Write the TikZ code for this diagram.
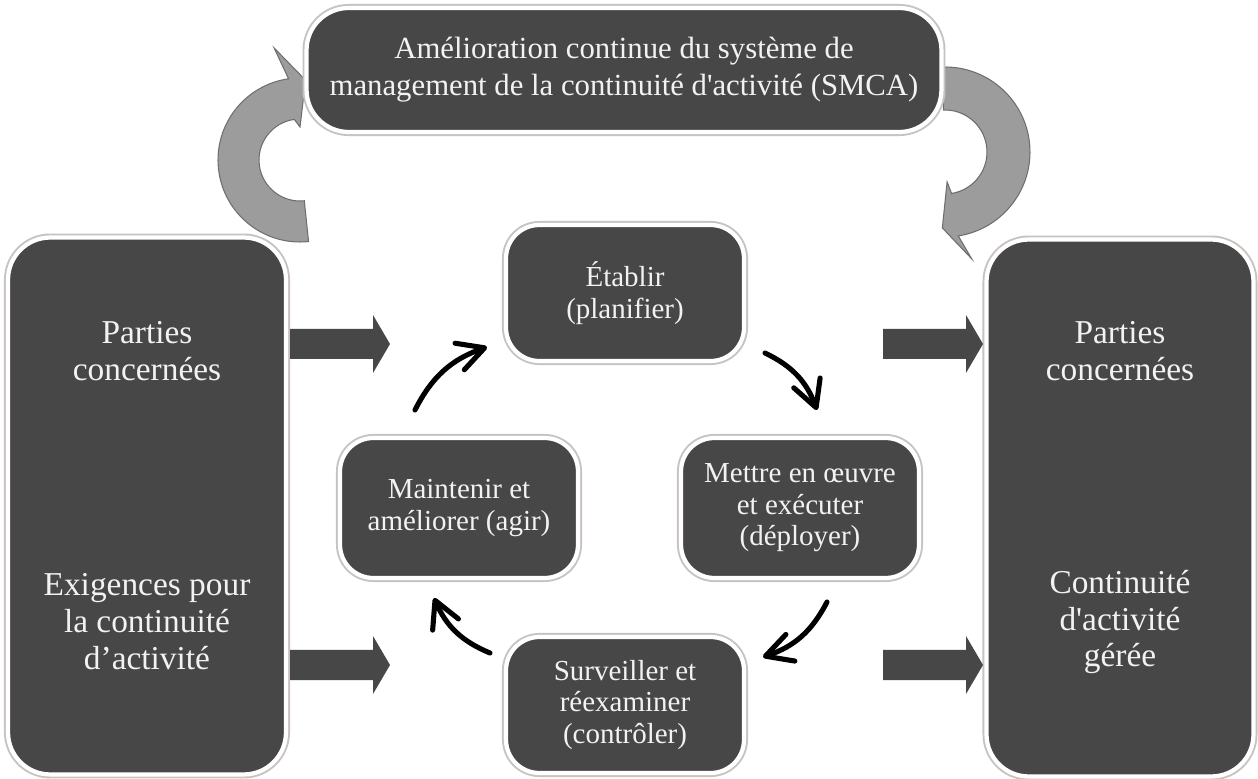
\documentclass[tikz,border=0pt]{standalone}
\usepackage{fontspec}
\setmainfont{Liberation Serif}
\usepackage{tikz}
\usetikzlibrary{calc,arrows.meta}
\definecolor{boxfill}{HTML}{474747}
\definecolor{boxedge}{HTML}{C9C3BF}
\definecolor{loopfill}{HTML}{9C9C9C}
\definecolor{loopedge}{HTML}{6E6E6E}
\definecolor{txt}{HTML}{F2F2F2}
\newcommand{\apos}{\XeTeXglyph\XeTeXcharglyph"27\relax}

\begin{document}
\begin{tikzpicture}[x=0.02cm,y=0.02cm,
  bloc/.style={rounded corners=#1,fill=boxfill,draw=white,line width=2.4pt,
    preaction={draw=boxedge,line width=4.6pt},text=txt,align=center,inner sep=0pt},
  bloc/.default=19pt,
  etape/.style={bloc,minimum width=4.76cm,minimum height=2.72cm,font=\fontsize{16.5}{18}\selectfont},
  grand/.style={bloc=24pt,minimum height=10.74cm},
  legende/.style={text=txt,align=center,font=\fontsize{19}{21}\selectfont},
  boucle/.style={fill=loopfill,draw=loopedge,line width=0.6pt},
  fleche/.style={fill=boxfill},
  tour/.style={line width=2.9pt,line cap=round,-{Straight Barb[length=15pt,width=16pt,round]}}]
  \useasboundingbox (0,0) rectangle (1258,778);
  \fill[white] (0,0) rectangle (1258,778);

  \coordinate (cg) at (300,618);
  \coordinate (cd) at (945,626);
  \draw[boucle] ([shift={(276:1.64cm)}]cg) arc[start angle=276,end angle=98,radius=1.64cm]
    -- ([shift={(103:2.3cm)}]cg) -- ([shift={(86:1.6cm)}]cg) -- ([shift={(90:0.66cm)}]cg)
    -- ([shift={(98:0.82cm)}]cg) arc[start angle=98,end angle=276,radius=0.82cm] -- cycle;
  \draw[boucle] ([shift={(92:1.7cm)}]cd) arc[start angle=92,end angle=-81,radius=1.7cm]
    -- ([shift={(-76:2.2cm)}]cd) -- ([shift={(-92:1.52cm)}]cd) -- ([shift={(-86:0.6cm)}]cd)
    -- ([shift={(-81:0.84cm)}]cd) arc[start angle=-81,end angle=92,radius=0.84cm] -- cycle;

  \node[bloc=24pt,minimum width=12.7cm,minimum height=2.48cm,
    font=\fontsize{17.5}{21}\selectfont] (smca) at (624,708)
    {Amélioration continue du système de\\management de la continuité d\apos activité (SMCA)};

  \node[grand,minimum width=5.56cm] (gauche) at (147,272) {};
  \node[grand,minimum width=5.34cm] (droite) at (1120,270) {};
  \node[legende] (pcg) at (147,427) {Parties\\concernées};
  \node[legende] (exig) at (147,156) {Exigences pour\\la continuité\\d’activité};
  \node[legende] (pcd) at (1120,427) {Parties\\concernées};
  \node[legende] (cont) at (1120,156) {Continuité\\d\apos activité\\gérée};

  \node[etape] (etab) at (625,485) {Établir\\(planifier)};
  \node[etape,minimum height=2.8cm] (maint) at (459,270) {Maintenir et\\améliorer (agir)};
  \node[etape,minimum height=2.8cm] (mettre) at (800,270) {Mettre en œuvre\\et exécuter\\(déployer)};
  \node[etape] (surv) at (625,73) {Surveiller et\\réexaminer\\(contrôler)};

  \foreach \x/\y in {290/434,290/113,883/434,883/113}
    \fill[fleche] (\x,\y-15) -- (\x+83,\y-15) -- (\x+83,\y-29) -- (\x+100,\y)
      -- (\x+83,\y+29) -- (\x+83,\y+15) -- (\x,\y+15) -- cycle;

  \coordinate (a1) at (415,368);
  \coordinate (b1) at (487,431);
  \coordinate (a2) at (765,425);
  \coordinate (b2) at (817,368);
  \coordinate (a3) at (827,176);
  \coordinate (b3) at (763,121);
  \coordinate (a4) at (490,125);
  \coordinate (b4) at (434,180);
  \foreach \i in {1,...,4} \draw[tour] (a\i) to[bend left=22] (b\i);
\end{tikzpicture}
\end{document}
